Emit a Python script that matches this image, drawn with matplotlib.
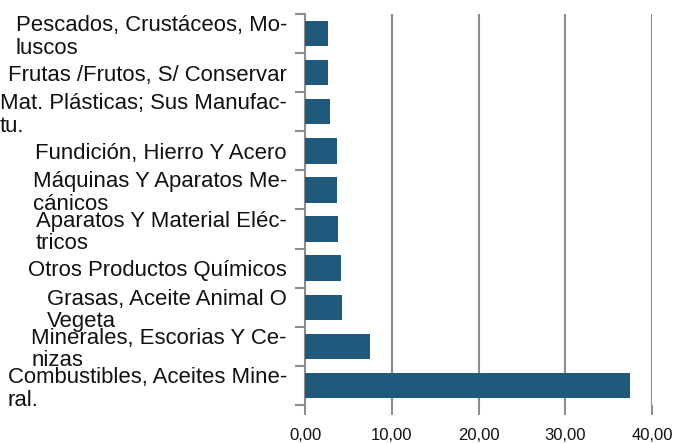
import matplotlib
matplotlib.use("Agg")
import matplotlib.pyplot as plt
import numpy as np

categories = [
    "Combustibles, Aceites Mine-\nral.",
    "Minerales, Escorias Y Ce-\nnizas",
    "Grasas, Aceite Animal O\nVegeta",
    "Otros Productos Químicos",
    "Aparatos Y Material Eléc-\ntricos",
    "Máquinas Y Aparatos Me-\ncánicos",
    "Fundición, Hierro Y Acero",
    "Mat. Plásticas; Sus Manufac-\ntu.",
    "Frutas /Frutos, S/ Conservar",
    "Pescados, Crustáceos, Mo-\nluscos",
]
values = [37.5, 7.5, 4.3, 4.15, 3.8, 3.7, 3.7, 2.9, 2.65, 2.65]
xticks = [0, 10, 20, 30, 40]
xticklabels = ["0,00", "10,00", "20,00", "30,00", "40,00"]

plt.rcParams['font.family'] = ['Liberation Sans', 'DejaVu Sans']
fig = plt.figure(figsize=(6.76, 4.44), dpi=100)
ax = fig.add_axes([305/676, 39/444, 347/676, 391/444])

y = np.arange(len(categories))
ax.barh(y, values, height=0.65, color="#1f5a7c", zorder=3)
ax.set_xlim(0, 40)
ax.set_ylim(-0.5, len(categories) - 0.5)
ax.set_xticks(xticks)
ax.set_xticklabels(xticklabels, fontsize=12, color="#111111")
ax.grid(axis='x', color="#8c8c8c", linewidth=1.5, zorder=1)

ax.set_yticks(y)
ax.set_yticklabels(categories, fontsize=15.9, color="#111111", ha='right',
                   multialignment='left', linespacing=1.1)
ax.set_yticks(np.arange(-0.5, len(categories)), minor=True)
ax.tick_params(axis='y', which='major', length=0, pad=13)
ax.tick_params(axis='y', which='minor', length=7.5, width=1.5, color="#8c8c8c")
ax.tick_params(axis='x', length=7.5, width=1.5, color="#8c8c8c", pad=9)

for s in ['top', 'right', 'bottom']:
    ax.spines[s].set_visible(False)
ax.spines['left'].set_color("#8c8c8c")
ax.spines['left'].set_linewidth(1.5)

fig.savefig("out.png", dpi=100)
